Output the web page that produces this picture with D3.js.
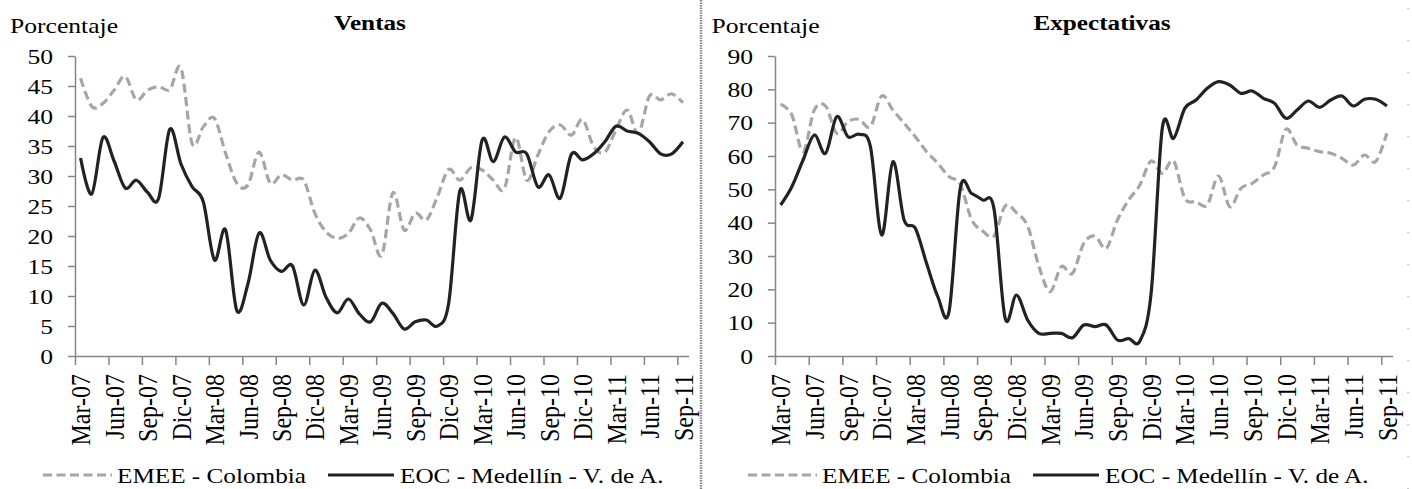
<!DOCTYPE html>
<html>
<head>
<meta charset="utf-8">
<script src="https://cdn.jsdelivr.net/npm/d3@7"></script>
<style>
  body { margin: 0; background: #fff; }
  svg { display: block; font-family: "Liberation Serif", "Times New Roman", serif; }
</style>
</head>
<body>
<script>
// monthly categories, Mar-07 .. Sep-11
var categories = ["Mar-07","Abr-07","May-07","Jun-07","Jul-07","Ago-07","Sep-07","Oct-07","Nov-07","Dic-07",
  "Ene-08","Feb-08","Mar-08","Abr-08","May-08","Jun-08","Jul-08","Ago-08","Sep-08","Oct-08","Nov-08","Dic-08",
  "Ene-09","Feb-09","Mar-09","Abr-09","May-09","Jun-09","Jul-09","Ago-09","Sep-09","Oct-09","Nov-09","Dic-09",
  "Ene-10","Feb-10","Mar-10","Abr-10","May-10","Jun-10","Jul-10","Ago-10","Sep-10","Oct-10","Nov-10","Dic-10",
  "Ene-11","Feb-11","Mar-11","Abr-11","May-11","Jun-11","Jul-11","Ago-11","Sep-11"];

var seriesNames = ["EMEE - Colombia", "EOC - Medellín - V. de A."];

// Ventas
var ventasEMEE = [46.3, 41.6, 42.1, 44.3, 46.6, 42.7, 44.3, 44.9, 44.4, 48.0,
  35.4, 38.2, 39.6, 33.8, 28.8, 28.5, 34.0, 28.8, 30.2, 29.3,
  29.3, 23.8, 20.7, 19.6, 20.4, 23.0, 21.0, 16.8, 27.2, 21.0,
  23.8, 22.7, 26.6, 31.1, 29.3, 31.4, 31.0, 29.3, 27.9, 36.4,
  29.3, 33.5, 37.4, 38.5, 36.8, 39.4, 34.9, 34.0, 37.7, 41.0,
  37.1, 43.3, 42.7, 43.7, 42.2];
var ventasEOC = [33.0, 27.0, 36.4, 32.5, 28.0, 29.3, 27.3, 26.3, 37.8, 32.0,
  28.2, 25.7, 16.0, 21.0, 7.6, 12.0, 20.5, 16.0, 14.1, 15.0,
  8.5, 14.3, 9.8, 7.2, 9.5, 7.0, 5.7, 8.8, 7.1, 4.5,
  5.7, 6.0, 5.0, 8.8, 27.5, 22.7, 36.0, 32.4, 36.5, 34.0,
  33.7, 28.2, 30.2, 26.3, 33.6, 32.7, 33.7, 35.7, 38.3, 37.5,
  37.1, 35.7, 33.7, 33.7, 35.7];

// Expectativas
var expectEMEE = [75.5, 72.3, 61.3, 73.8, 75.0, 66.8, 70.3, 71.0, 68.8, 78.0,
  73.8, 69.8, 65.8, 61.3, 57.8, 53.8, 51.5, 41.0, 37.5, 36.0,
  45.0, 43.0, 39.0, 27.0, 19.3, 26.8, 24.8, 33.8, 36.0, 32.3,
  40.8, 46.8, 51.3, 58.5, 54.8, 58.5, 47.3, 46.3, 45.3, 54.0,
  44.8, 50.3, 51.8, 54.3, 56.8, 68.0, 63.3, 62.3, 61.3, 60.8,
  59.3, 57.3, 60.3, 58.3, 66.8];
var expectEOC = [45.3, 50.8, 58.8, 66.3, 60.8, 71.8, 65.8, 66.5, 62.8, 36.3,
  58.3, 40.8, 38.3, 27.8, 17.8, 13.3, 50.3, 48.8, 46.8, 44.3,
  11.3, 18.3, 10.8, 6.8, 6.8, 6.8, 5.5, 9.3, 8.8, 9.3,
  4.8, 5.2, 4.5, 18.8, 68.5, 65.3, 74.3, 76.8, 80.3, 82.3,
  81.3, 78.8, 79.5, 77.3, 75.8, 71.3, 73.8, 76.5, 74.6, 76.8,
  78.0, 75.0, 77.0, 77.0, 75.0];

var W = 1412, H = 489;
var SX = 1.22;            // text is drawn slightly wider than tall, as in the source picture
var plotTop = 56, plotBottom = 356;
var grayColor = "#a6a6a6", blackColor = "#222", axisColor = "#868686";

var panels = [
  {title: "Ventas", ymax: 50, ystep: 5, gray: ventasEMEE, black: ventasEOC,
   x0: 75, x1: 688.5, titleX: 370, ylabX: 10, legendDx: 0},
  {title: "Expectativas", ymax: 90, ystep: 10, gray: expectEMEE, black: expectEOC,
   x0: 775, x1: 1392.5, titleX: 1102, ylabX: 711.5, legendDx: 705}
];

var svg = d3.select("body").append("svg")
    .attr("width", W)
    .attr("height", H);

svg.append("rect").attr("width", W).attr("height", H).attr("fill", "#fff");

// panel separators
svg.append("line")
    .attr("x1", 701).attr("x2", 701).attr("y1", 0).attr("y2", H)
    .attr("stroke", "#8a8a8a").attr("stroke-width", 2.5)
    .attr("stroke-dasharray", "1.5,1");
svg.append("line")
    .attr("x1", 1408).attr("x2", 1408).attr("y1", 8).attr("y2", H)
    .attr("stroke", "#bbb").attr("stroke-width", 1.5)
    .attr("stroke-dasharray", "1.5,30.5");

panels.forEach(function(p) {
    var x = d3.scaleLinear()
        .domain([0, categories.length])
        .range([p.x0, p.x1]);

    var y = d3.scaleLinear()
        .domain([0, p.ymax])
        .range([plotBottom, plotTop]);

    var line = d3.line()
        .x(function(d, i) { return x(i + 0.5); })
        .y(function(d) { return y(d); })
        .curve(d3.curveCardinal.tension(0));

    // y axis
    var gY = svg.append("g")
        .attr("transform", "translate(" + p.x0 + ",0)")
        .call(d3.axisLeft(y)
            .tickValues(d3.range(0, p.ymax + 1, p.ystep))
            .tickSize(7)
            .tickSizeOuter(0));
    gY.selectAll("text")
        .attr("x", null).attr("dy", null)
        .attr("transform", "translate(-22,0) scale(" + SX + ",1)")
        .attr("dy", "0.34em")
        .attr("text-anchor", "end")
        .attr("fill", "#000")
        .style("font-size", "21px")
        .style("font-family", "Liberation Serif, serif");

    // x axis: tick marks at category boundaries
    var gX = svg.append("g")
        .attr("transform", "translate(0," + plotBottom + ")")
        .call(d3.axisBottom(x)
            .tickValues(d3.range(0, categories.length, 3))
            .tickSize(9)
            .tickSizeOuter(0)
            .tickFormat(""));

    // x labels: centered under category
    var gL = svg.append("g")
        .attr("transform", "translate(0," + plotBottom + ")")
        .call(d3.axisBottom(x)
            .tickValues(d3.range(0, categories.length, 3).map(function(i) { return i + 0.5; }))
            .tickSize(0)
            .tickFormat(function(v) { return categories[Math.floor(v)]; }));
    gL.select(".domain").remove();
    gL.selectAll("text")
        .attr("x", null).attr("y", null).attr("dy", null)
        .attr("transform", "translate(0,18) scale(1.18,1) rotate(-90)")
        .attr("text-anchor", "end")
        .attr("dominant-baseline", "central")
        .attr("fill", "#000")
        .style("font-size", "24px")
        .style("font-family", "Liberation Serif, serif");

    [gX, gY].forEach(function(g) {
        g.select(".domain").attr("stroke", axisColor).attr("stroke-width", 1.5);
        g.selectAll(".tick line").attr("stroke", axisColor).attr("stroke-width", 1.5);
    });

    // series
    svg.append("path")
        .datum(p.gray)
        .attr("fill", "none")
        .attr("stroke", grayColor)
        .attr("stroke-width", 3.2)
        .attr("stroke-dasharray", "9,4.5")
        .attr("d", line);

    svg.append("path")
        .datum(p.black)
        .attr("fill", "none")
        .attr("stroke", blackColor)
        .attr("stroke-width", 3.2)
        .attr("stroke-linejoin", "round")
        .attr("d", line);

    // title and unit label
    svg.append("text")
        .attr("transform", "translate(" + p.titleX + ",30) scale(1.2,1)")
        .attr("text-anchor", "middle")
        .style("font-size", "21px")
        .style("font-weight", "bold")
        .text(p.title);

    svg.append("text")
        .attr("transform", "translate(" + p.ylabX + ",33) scale(" + SX + ",1)")
        .style("font-size", "21px")
        .text("Porcentaje");

    // legend
    var lg = svg.append("g").attr("transform", "translate(" + p.legendDx + ",0)");
    lg.append("line")
        .attr("x1", 43).attr("x2", 112).attr("y1", 475).attr("y2", 475)
        .attr("stroke", grayColor).attr("stroke-width", 3.2)
        .attr("stroke-dasharray", "9,4.5");
    lg.append("text")
        .attr("transform", "translate(117,483) scale(1.2,1)")
        .style("font-size", "21px")
        .text(seriesNames[0]);
    lg.append("line")
        .attr("x1", 328).attr("x2", 394).attr("y1", 475).attr("y2", 475)
        .attr("stroke", blackColor).attr("stroke-width", 3.2);
    lg.append("text")
        .attr("transform", "translate(400,483) scale(1.2,1)")
        .style("font-size", "21px")
        .text(seriesNames[1]);
});
</script>
</body>
</html>
